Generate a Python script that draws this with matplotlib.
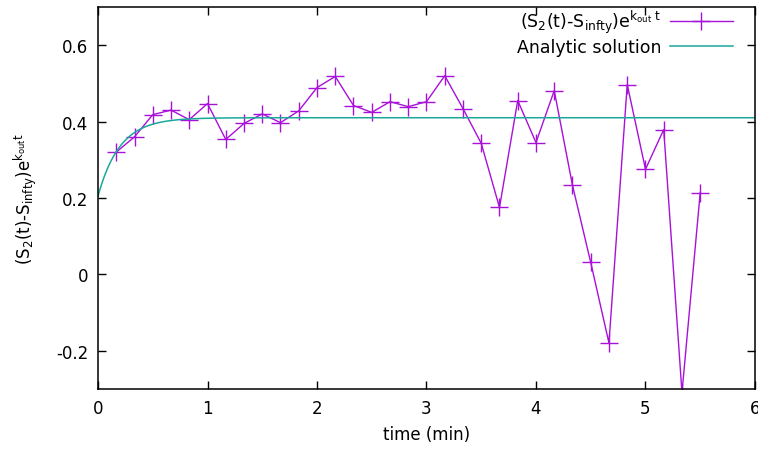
import numpy as np
import matplotlib
matplotlib.use("Agg")
import matplotlib.pyplot as plt

# measured points, one every 10 s
t = [1/6, 2/6, 3/6, 4/6, 5/6, 1.0, 7/6, 8/6, 1.5, 10/6, 11/6, 2.0,
     13/6, 14/6, 2.5, 16/6, 17/6, 3.0, 19/6, 20/6, 3.5, 22/6, 23/6, 4.0,
     25/6, 26/6, 4.5, 28/6, 29/6, 5.0, 31/6, 32/6, 5.5]
s = [0.32, 0.36, 0.418, 0.43, 0.405, 0.447, 0.353, 0.395, 0.42, 0.397, 0.428, 0.489,
     0.518, 0.442, 0.424, 0.452, 0.439, 0.452, 0.52, 0.434, 0.343, 0.175, 0.455, 0.345,
     0.481, 0.233, 0.031, -0.18, 0.497, 0.275, 0.379, -0.31, 0.214]

# analytic solution parameters
s_start = 0.205
s_plateau = 0.41
k_rate = 5.0

plt.rcParams['font.family'] = ['DejaVu Sans']
plt.rcParams['font.size'] = 12

fig = plt.figure(figsize=(7.58, 4.56), dpi=100)
ax = fig.add_axes([0.1293, 0.145, 0.8667, 0.8375])

tt = np.linspace(0, 6, 600)
ana = s_plateau - (s_plateau - s_start)*np.exp(-k_rate*tt)

ax.plot(t, s, color='#a811d8', lw=1.0, marker='+', ms=13, mew=1.0,
        label=r'(S$_2$(t)-S$_{\mathrm{infty}}$)e$^{\mathrm{k}_{\mathrm{out}}\ \mathrm{t}}$')
ax.plot(tt, ana, color='#1aa89a', lw=1.1, label='Analytic solution')

ax.set_xlim(0, 6)
ax.set_ylim(-0.3, 0.7)
ax.set_xticks([0, 1, 2, 3, 4, 5, 6])
ax.set_yticks([-0.2, 0, 0.2, 0.4, 0.6])
ax.set_yticklabels(['-0.2', '0', '0.2', '0.4', '0.6'])
ax.tick_params(direction='in', top=True, right=True, length=6, width=1, pad=7)
for sp in ax.spines.values():
    sp.set_linewidth(1.1)

ax.set_xlabel('time (min)', labelpad=6)
ax.set_ylabel(r'(S$_2$(t)-S$_{\mathrm{infty}}$)e$^{\mathrm{k}_{\mathrm{out}}\mathrm{t}}$', labelpad=12)

ax.legend(loc='upper right', bbox_to_anchor=(0.966, 0.998), frameon=False,
          markerfirst=False, handlelength=3.6, borderaxespad=0, borderpad=0,
          labelspacing=0.15, handletextpad=0.5, fontsize=12.5)

fig.savefig('out.png', dpi=100)
